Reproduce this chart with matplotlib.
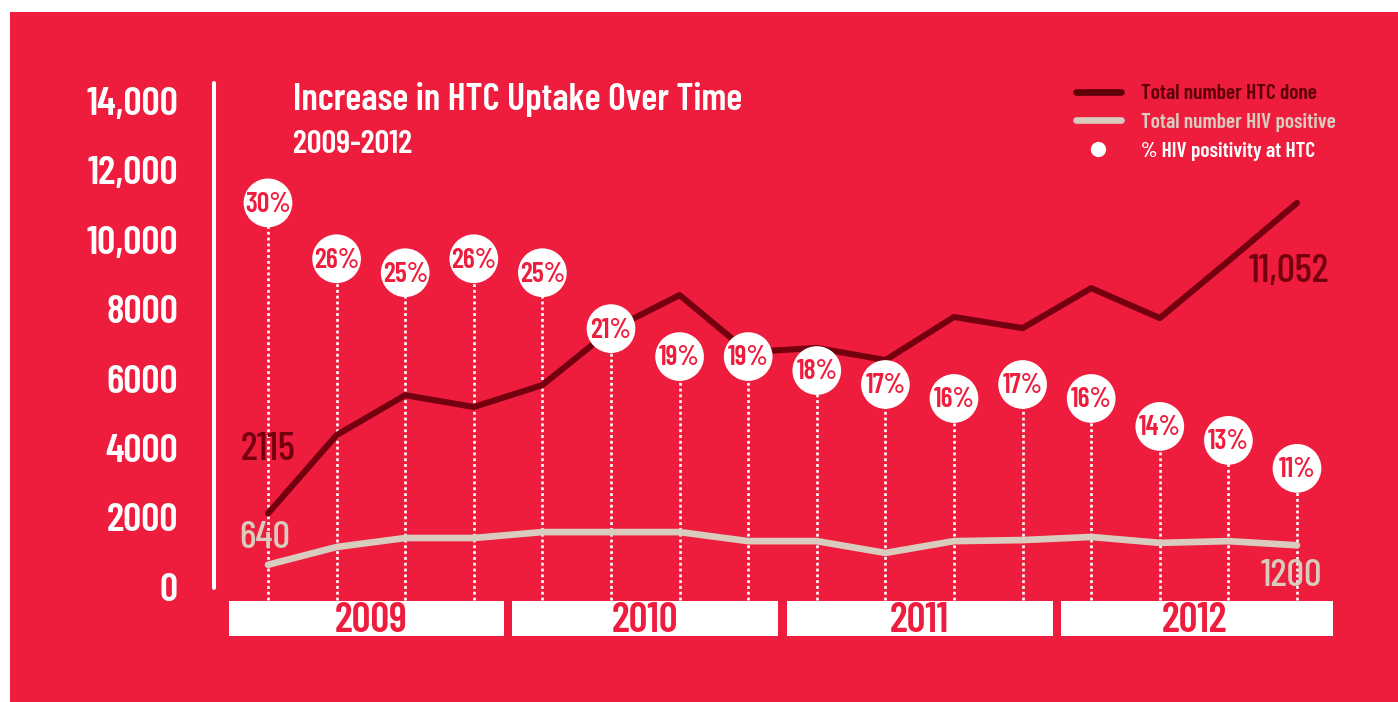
import numpy as np
import matplotlib
matplotlib.use('Agg')
import matplotlib.pyplot as plt
from matplotlib.lines import Line2D
from matplotlib.patches import Rectangle

#=====Data=====
years = ['2009', '2010', '2011', '2012']
quarters = np.arange(16)
htc_done = [2115, 4370, 5520, 5180, 5810, 7400, 8400, 6760,
            6880, 6530, 7770, 7450, 8600, 7740, 9380, 11052]
hiv_pos = [640, 1150, 1410, 1410, 1580, 1580, 1580, 1320,
           1320, 980, 1320, 1350, 1440, 1270, 1320, 1200]
pct_pos = [30, 26, 25, 26, 25, 21, 19, 19, 18, 17, 16, 17, 16, 14, 13, 11]
ytick_vals = [0, 2000, 4000, 6000, 8000, 10000, 12000, 14000]
ytick_labels = ['0', '2000', '4000', '6000', '8000', '10,000', '12,000', '14,000']
legend_labels = ['Total number HTC done', 'Total number HIV positive', '% HIV positivity at HTC']

#=====Style=====
FONT = ['Barlow Condensed', 'DejaVu Sans']
RED = '#EE1C3D'
DARK = '#74000F'
BEIGE = '#D9CBBE'
W, H = 1398, 702

plt.rcParams['font.family'] = FONT
plt.rcParams['font.weight'] = 'semibold'

fig = plt.figure(figsize=(W / 100, H / 100), dpi=100, facecolor='white')
fig.add_artist(Rectangle((10 / W, 0), 1, (H - 12) / H, transform=fig.transFigure,
                         facecolor=RED, edgecolor='none', zorder=0))

#=====Axes: stems below, lines middle, bubbles on top=====
ax = fig.add_axes([214 / W, (H - 588) / H, (1340 - 214) / W, 505 / H])
ax_stem = ax.twinx()
ax_pct = ax.twinx()
ax_stem.set_zorder(1)
ax.set_zorder(2)
ax_pct.set_zorder(3)

for a in (ax, ax_stem, ax_pct):
    a.patch.set_visible(False)
    for s in a.spines.values():
        s.set_visible(False)

ax.set_xlim(-0.787, 15.627)
ax.set_ylim(-29, 14504)
ax_stem.set_ylim(2.434, 38.58)
ax_pct.set_ylim(2.434, 38.58)
ax_stem.set_yticks([])
ax_pct.set_yticks([])
ax.set_xticks([])

ax.spines['left'].set_visible(True)
ax.spines['left'].set_color('white')
ax.spines['left'].set_linewidth(2.9)
ax.spines['left'].set_capstyle('round')
ax.set_yticks(ytick_vals)
ax.set_yticklabels(ytick_labels, fontsize=29, color='white', fontweight='semibold')
ax.tick_params(axis='y', length=0, pad=26)

#=====Lines=====
ax.plot(quarters, htc_done, color=DARK, lw=4.4, solid_capstyle='round', clip_on=False)
ax.plot(quarters, hiv_pos, color=BEIGE, lw=4.8, solid_capstyle='round', clip_on=False)

ax.annotate(f'{htc_done[0]}', (quarters[0], htc_done[0]), xytext=(0, 46),
            textcoords='offset points', ha='center', va='center', color=DARK,
            fontsize=29, fontweight='medium')
ax.annotate(f'{hiv_pos[0]}', (quarters[0], hiv_pos[0]), xytext=(-2, 19),
            textcoords='offset points', ha='center', va='center', color=BEIGE,
            fontsize=28, fontweight='medium')
ax.annotate(f'{htc_done[-1]:,}', (quarters[-1], htc_done[-1]), xytext=(-6, -50),
            textcoords='offset points', ha='center', va='center', color=DARK,
            fontsize=29, fontweight='medium')
ax.annotate(f'{hiv_pos[-1]}', (quarters[-1], hiv_pos[-1]), xytext=(-4, -22),
            textcoords='offset points', ha='center', va='center', color=BEIGE,
            fontsize=28, fontweight='medium')

#=====Dotted stems and % bubbles=====
ax_stem.vlines(quarters, 1.575, pct_pos, colors='white', linestyles=(0, (1.1, 1.1)),
               lw=1.9, clip_on=False)
ax_pct.scatter(quarters, pct_pos, s=1230, c='white', edgecolors='none', clip_on=False)
for q, p in zip(quarters, pct_pos):
    ax_pct.annotate(f'{p}%', (q, p), xytext=(0, -1), textcoords='offset points',
                    ha='center', va='center', color=RED, fontsize=20,
                    fontweight='semibold')

#=====Year band=====
tr = ax.get_xaxis_transform()
for k, yr in enumerate(years):
    left = 4 * k - 0.44 if k > 0 else -0.57
    right = 4 * k + 3.44 if k < len(years) - 1 else 15.53
    ax.add_patch(Rectangle((left, -0.095), right - left, 0.0693, transform=tr,
                           facecolor='white', edgecolor='none', clip_on=False))
    ax.text(4 * k + 1.5, -0.066, yr, transform=tr, ha='center', va='center',
            color=RED, fontsize=30, fontweight='semibold')

#=====Titles=====
fig.text(293 / W, 1 - 110 / H, 'Increase in HTC Uptake Over Time', fontsize=27,
         color='white', fontweight='semibold', va='baseline', ha='left')
fig.text(293 / W, 1 - 153 / H, '2009-2012', fontsize=23.5,
         color='white', fontweight='semibold', va='baseline', ha='left')

#=====Legend=====
handles = [Line2D([], [], color='#5E0008', lw=4.8, solid_capstyle='round'),
           Line2D([], [], color=BEIGE, lw=4.8, solid_capstyle='round'),
           Line2D([], [], ls='none', marker='o', ms=11, mfc='white', mec='none')]
ax_pct.legend(handles, legend_labels, loc='upper left',
              bbox_to_anchor=(1076 / W, 1 - 84 / H), bbox_transform=fig.transFigure,
              frameon=False, prop=dict(family=FONT, weight='semibold', size=15.4),
              handlelength=2.1, handletextpad=0.96, labelspacing=0.46,
              borderpad=0, borderaxespad=0, numpoints=1,
              labelcolor=['#5E0008', BEIGE, 'white'])

fig.savefig('out.png', dpi=100, facecolor='white')
